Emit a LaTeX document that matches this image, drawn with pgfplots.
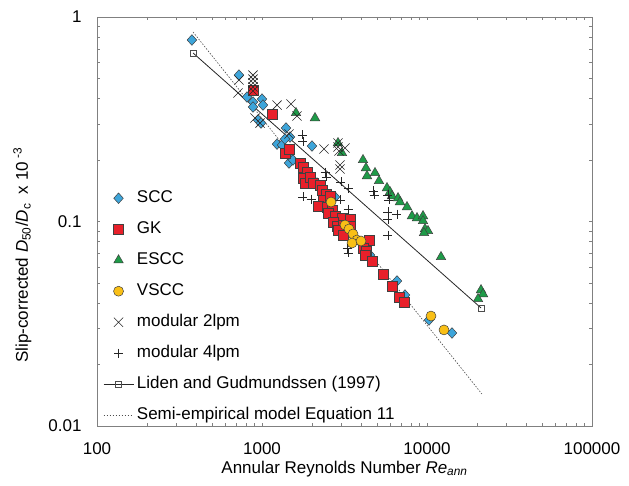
\documentclass[border=0pt]{standalone}
\usepackage{fontspec}
\setmainfont{Liberation Sans}
\usepackage{pgfplots}
\pgfplotsset{compat=1.18}

\definecolor{sccblue}{HTML}{3DA5DA}
\definecolor{gkred}{HTML}{E8202A}
\definecolor{esccgreen}{HTML}{1E9B48}
\definecolor{vsccyellow}{HTML}{F9BF16}

\begin{document}
\begin{tikzpicture}[x=1pt,y=1pt]
\path[use as bounding box] (0,0) rectangle (629,485);
\begin{axis}[
  at={(97pt,59pt)}, anchor=south west,
  scale only axis, width=495pt, height=409pt,
  xmode=log, ymode=log,
  xmin=100, xmax=100000, ymin=0.01, ymax=1,
  xtick={100,1000,10000,100000}, xticklabels={100,1000,10000,100000},
  ytick={0.01,0.1,1}, yticklabels={0.01,0.1,1},
  minor xtick={}, minor ytick={},
  major tick length=0pt,
  axis line style={black!50, line width=0.9pt},
  tick label style={font=\fontsize{17}{20}\selectfont},
  xticklabel style={anchor=base, yshift=-28pt},
  yticklabel style={anchor=east, xshift=-12pt},
  xlabel={Annular Reynolds Number \textit{Re}\textsubscript{\textit{ann}}},
  xlabel style={at={(axis description cs:0.5,0)}, anchor=base, yshift=-47pt, font=\fontsize{17}{20}\selectfont},
  ylabel={Slip-corrected \textit{D}\textsubscript{50}/\textit{D}\textsubscript{c}\ \ x 10\textsuperscript{ -3}},
  ylabel style={at={(axis description cs:-0.1394,0.418)}, anchor=base, rotate=0, font=\fontsize{17}{20}\selectfont},
  legend cell align=left,
  legend image code/.code={\draw[mark repeat=2,mark phase=2,#1] plot coordinates {(0pt,0pt) (15pt,0pt) (30pt,0pt)};},
  legend style={at={(axis description cs:0.012,0.5837)}, anchor=north west, draw=none, fill=none,
    inner sep=0pt, row sep=9.5pt, font=\fontsize{17}{20}\selectfont,
    nodes={text height=12pt, text depth=3.5pt, inner sep=3pt}},
]
% SCC
\addplot[only marks, mark=diamond*, mark size=5.3pt,
  mark options={xscale=1.2, fill=sccblue, draw=black!75, line width=0.5pt}] coordinates {
  (376,0.772) (725,0.520) (811,0.406) (882,0.384) (1000,0.397) (1014,0.371) (882,0.363)
  (946,0.3135) (986,0.303) (1398,0.2866) (1478,0.259) (1233,0.239) (1322,0.2366) (1378,0.253)
  (2009,0.2339) (1478,0.2067) (1458,0.1932) (1541,0.1999) (1748,0.1826) (2154,0.1543)
  (2037,0.1543) (2770,0.1318) (4513,0.0686) (6579,0.0512) (7356,0.0437) (10283,0.0330) (14174,0.0285)
};
\addlegendentry{SCC}
% GK
\addplot[only marks, mark=square*, mark size=5pt,
  mark options={fill=gkred, draw=black!75, line width=0.5pt}] coordinates {
  (882,0.440) (1150,0.3355) (1378,0.2163) (1458,0.2262) (1699,0.1932) (1772,0.1847) (1874,0.1746)
  (1772,0.1632) (1822,0.1543) (1954,0.1651) (2037,0.1543) (2246,0.1509) (2310,0.1426) (2443,0.1363)
  (2343,0.1274) (2583,0.1332) (2184,0.119) (2477,0.1177) (2656,0.1138) (2512,0.110) (2770,0.1063)
  (3053,0.104) (2694,0.0994) (2848,0.0951) (3097,0.0961) (2888,0.0909) (3097,0.0859) (3415,0.1028)
  (3415,0.0951) (4451,0.0812) (4094,0.0742) (4268,0.0717) (4209,0.0686) (4642,0.0641) (5412,0.0554)
  (6136,0.0484) (6767,0.0427) (7255,0.0404)
};
\addlegendentry{GK}
% ESCC
\addplot[only marks, mark=triangle*, mark size=5.5pt,
  mark options={fill=esccgreen, draw=black!75, line width=0.5pt}] coordinates {
  (1607,0.3394) (2095,0.3207) (2888,0.2420) (3053,0.2163) (4094,0.1999) (4268,0.1826) (4328,0.1669)
  (4840,0.1727) (5118,0.1578) (5722,0.1458) (5967,0.1394) (6136,0.1332) (6673,0.1302) (6862,0.1245)
  (7565,0.1177) (8111,0.1063) (8697,0.1040) (9458,0.1063) (9458,0.1006) (9725,0.0919) (10141,0.0899)
  (9590,0.0879) (12158,0.0671) (21250,0.0462) (21851,0.0442) (20379,0.0418)
};
\addlegendentry{ESCC}
% VSCC
\addplot[only marks, mark=*, mark size=5pt,
  mark options={fill=vsccyellow, draw=black!75, line width=0.5pt}] coordinates {
  (2620,0.1245) (3184,0.0961) (3368,0.0919) (3561,0.0869) (3765,0.0812) (3512,0.0785)
  (3981,0.0803) (10573,0.0345) (12676,0.0295)
};
\addlegendentry{VSCC}
% modular 2 lpm
\addplot[only marks, mark=x, mark size=6.5pt, mark options={draw=black!85, line width=0.6pt}] coordinates {
  (725,0.492) (715,0.425) (882,0.520) (882,0.497) (882,0.476) (882,0.455) (882,0.435)
  (1233,0.371) (1499,0.3755) (1630,0.328) (907,0.3207) (973,0.303) (1458,0.2679) (2376,0.2262)
  (2888,0.242) (2888,0.2313) (2929,0.2212) (3184,0.2288) (2970,0.189) (2970,0.1806)
};
\addlegendentry{modular 2lpm}
% modular 4 lpm
\addplot[only marks, mark=+, mark size=4.5pt, mark options={draw=black!85, line width=0.5pt}] coordinates {
  (1748,0.2649) (1772,0.2475) (1772,0.1318) (1982,0.1288) (2409,0.1746) (2443,0.1651) (3011,0.1561)
  (3321,0.1458) (2970,0.1274) (3321,0.1151) (4707,0.1410) (4773,0.1348) (5801,0.1348) (5884,0.1274)
  (5801,0.1113) (6579,0.1088) (5801,0.1028) (5801,0.0859) (3275,0.0742) (3321,0.0702)
};
\addlegendentry{modular 4lpm}
% Liden and Gudmundssen
\addplot[black!85, line width=0.8pt, mark=square, mark size=3pt,
  mark options={solid, fill=white, draw=black!70, line width=0.6pt}] coordinates {
  (382,0.667) (21240,0.0378)
};
\addlegendentry{Liden and Gudmundssen (1997)}
% semi-empirical model
\addplot[black!70, line width=0.6pt, dash pattern=on 1.5pt off 1.5pt] coordinates {
  (382,0.845) (21500,0.01435)
};
\addlegendentry{Semi-empirical model Equation 11}
\end{axis}
\end{tikzpicture}
\end{document}
